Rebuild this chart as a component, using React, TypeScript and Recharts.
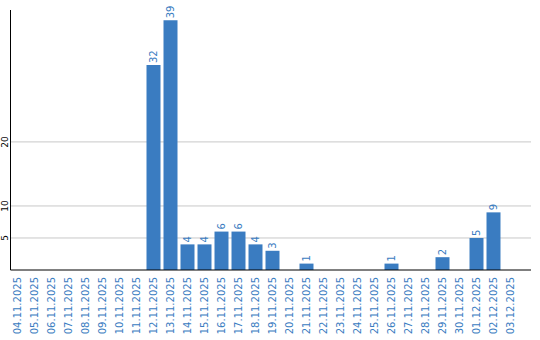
import React from "react";
import { BarChart, Bar, XAxis, YAxis, CartesianGrid, LabelList } from "recharts";

const categories = [
  "04.11.2025", "05.11.2025", "06.11.2025", "07.11.2025", "08.11.2025",
  "09.11.2025", "10.11.2025", "11.11.2025", "12.11.2025", "13.11.2025",
  "14.11.2025", "15.11.2025", "16.11.2025", "17.11.2025", "18.11.2025",
  "19.11.2025", "20.11.2025", "21.11.2025", "22.11.2025", "23.11.2025",
  "24.11.2025", "25.11.2025", "26.11.2025", "27.11.2025", "28.11.2025",
  "29.11.2025", "30.11.2025", "01.12.2025", "02.12.2025", "03.12.2025",
];
const values = [
  0, 0, 0, 0, 0, 0, 0, 0, 32, 39,
  4, 4, 6, 6, 4, 3, 0, 1, 0, 0,
  0, 0, 1, 0, 0, 2, 0, 5, 9, 0,
];
const yTicks = [5, 10, 20];
const yMax = 40.6;

const data = categories.map((c, i) => ({ date: c, value: values[i] }));

const BLUE = "#3a7cc1";
const FONT = "DejaVu Sans";

const XTick = (props: any) => {
  const { x, payload } = props;
  return (
    <text
      transform={`translate(${x},277) rotate(-90)`}
      textAnchor="end"
      dominantBaseline="central"
      fontSize={10}
      fontFamily={FONT}
      fill={BLUE}
    >
      {payload.value}
    </text>
  );
};

const YTick = (props: any) => {
  const { y, payload } = props;
  return (
    <text
      transform={`translate(5,${y}) rotate(-90)`}
      textAnchor="middle"
      dominantBaseline="central"
      fontSize={9}
      fontFamily={FONT}
      fill="#000"
    >
      {payload.value}
    </text>
  );
};

const ValueLabel = (props: any) => {
  const { x, y, width, value } = props;
  if (!value) return null;
  const cx = x + width / 2;
  return (
    <text
      transform={`translate(${cx},${y - 2}) rotate(-90)`}
      textAnchor="start"
      dominantBaseline="central"
      fontSize={10}
      fontFamily={FONT}
      fill={BLUE}
    >
      {value}
    </text>
  );
};

export default function App() {
  return (
    <div style={{ position: "absolute", left: 0, top: 0, width: 540, height: 340, background: "#fff" }}>
      <BarChart
        width={540}
        height={340}
        data={data}
        margin={{ top: 10, right: 9, bottom: 0, left: 0 }}
      >
        <CartesianGrid
          horizontal={true}
          vertical={false}
          stroke="#c8c8c8"
          horizontalValues={yTicks}
        />
        <XAxis
          dataKey="date"
          interval={0}
          height={70}
          tickLine={false}
          axisLine={{ stroke: "#000" }}
          padding={{ left: -2, right: 12.5 }}
          tick={<XTick />}
        />
        <YAxis
          width={10.5}
          domain={[0, yMax]}
          ticks={yTicks}
          tickLine={false}
          axisLine={{ stroke: "#000" }}
          tick={<YTick />}
        />
        <Bar dataKey="value" fill={BLUE} barSize={14} isAnimationActive={false}>
          <LabelList dataKey="value" content={<ValueLabel />} />
        </Bar>
      </BarChart>
    </div>
  );
}
